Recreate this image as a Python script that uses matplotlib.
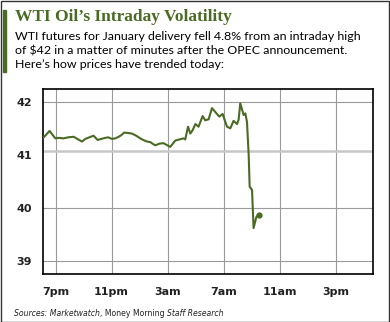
import matplotlib
matplotlib.use("Agg")
import matplotlib.pyplot as plt
from matplotlib.patches import Rectangle

# hours after 6pm (0 = 6pm, 1 = 7pm, ... 21 = 3pm)
hours = [0.12, 0.57, 0.98, 1.21, 1.55, 1.91, 2.29, 2.55, 2.89, 3.12, 3.41, 3.71,
         4.00, 4.26, 4.55, 4.76, 5.03, 5.26, 5.50, 5.69, 5.91, 6.19, 6.46, 6.76,
         7.05, 7.26, 7.53, 7.76, 7.98, 8.12, 8.41, 8.71, 8.91, 9.19, 9.34, 9.55,
         9.84, 10.14, 10.26, 10.46, 10.62, 10.80, 10.98, 11.21, 11.50, 11.69,
         11.93, 12.17, 12.46, 12.69, 12.93, 13.24, 13.48, 13.71, 13.96, 14.07,
         14.19, 14.43, 14.55, 14.67, 14.79, 14.86, 15.03, 15.14, 15.34, 15.50]
prices = [41.32, 41.45, 41.31, 41.32, 41.31, 41.33, 41.34, 41.30, 41.25, 41.30,
          41.33, 41.36, 41.28, 41.30, 41.32, 41.33, 41.30, 41.31, 41.34, 41.37,
          41.42, 41.41, 41.40, 41.36, 41.31, 41.28, 41.25, 41.24, 41.20, 41.18,
          41.21, 41.22, 41.19, 41.15, 41.20, 41.27, 41.29, 41.31, 41.29, 41.53,
          41.40, 41.47, 41.58, 41.53, 41.73, 41.65, 41.67, 41.88, 41.79, 41.72,
          41.77, 41.53, 41.50, 41.64, 41.58, 41.66, 41.97, 41.75, 41.78, 41.62,
          41.00, 40.40, 40.34, 39.62, 39.83, 39.87]

tick_hours = [1, 5, 9, 13, 17, 21]
tick_labels = ["7pm", "11pm", "3am", "7am", "11am", "3pm"]
y_ticks = [39, 40, 41, 42]
ref_level = 41.07

green = "#4a6b24"

fig = plt.figure(figsize=(3.9, 3.22), dpi=100)
ax = fig.add_axes([43 / 390, 1 - 274.3 / 322, 330 / 390, 185.3 / 322])

for y in [39, 40, 42]:
    ax.axhline(y, color="#9a9a9a", lw=0.8, zorder=1)
for h in tick_hours:
    ax.axvline(h, color="#9a9a9a", lw=0.8, zorder=1)
ax.axhline(ref_level, color="#c8c8c8", lw=1.8, zorder=1)

ax.plot(hours, prices, color=green, lw=1.5, zorder=3)
ax.plot(hours[-1], prices[-1], "o", color=green, ms=3.5, zorder=4)

ax.set_xlim(0.1, 23.67)
ax.set_ylim(38.75, 42.24)
ax.set_xticks(tick_hours)
ax.set_xticklabels(tick_labels)
ax.set_yticks(y_ticks)
ax.tick_params(length=0, labelsize=8, labelcolor="#222222", pad=8)
ax.tick_params(axis="x", pad=9)
for lab in ax.get_xticklabels() + ax.get_yticklabels():
    lab.set_fontweight("bold")
for s in ax.spines.values():
    s.set_color("black")
    s.set_linewidth(1.2)

# header
fig.patches.append(Rectangle((3 / 390, 1 - 72 / 322), 3 / 390, 62 / 322,
                             transform=fig.transFigure, color=green))
fig.text(15 / 390, 1 - 21 / 322, "WTI Oil\u2019s Intraday Volatility",
         family="Liberation Serif", weight="bold", fontsize=12.5, color=green)
sub = ["WTI futures for January delivery fell 4.8% from an intraday high",
       "of $42 in a matter of minutes after the OPEC announcement.",
       "Here\u2019s how prices have trended today:"]
for i, line in enumerate(sub):
    fig.text(15 / 390, 1 - (39.5 + 14.5 * i) / 322, line,
             family="Lato", fontsize=8.9, color="black")

# sources line with mixed styles
renderer = fig.canvas.get_renderer()
x = 14 / 390
for part, style in [("Sources: Marketwatch", "italic"), (", Money Morning ", "normal"),
                    ("Staff Research", "italic")]:
    t = fig.text(x, 1 - 316 / 322, part, family="DejaVu Sans", style=style,
                 fontsize=5.6, color="#222222")
    bb = t.get_window_extent(renderer)
    x += bb.width / fig.bbox.width

fig.patches.append(Rectangle((0.5 / 390, 0.5 / 322), 388.5 / 390, 321 / 322,
                             transform=fig.transFigure, fill=False,
                             edgecolor="#333333", lw=1))

fig.savefig("out.png", dpi=100)
